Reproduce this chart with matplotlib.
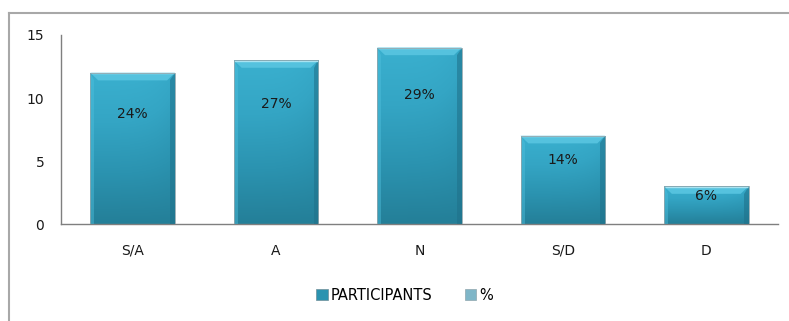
import matplotlib.pyplot as plt
import numpy as np
from matplotlib.patches import Polygon, Patch, Rectangle
from matplotlib.colors import LinearSegmentedColormap

categories = ["S/A", "A", "N", "S/D", "D"]
participants = [12, 13, 14, 7, 3]
percent_labels = ["24%", "27%", "29%", "14%", "6%"]

plt.rcParams['font.family'] = ['DejaVu Sans']

fig = plt.figure(figsize=(7.89, 3.21), dpi=100)
ax = fig.add_axes([0.0773, 0.302, 0.9087, 0.589])

# gradient for the bar faces: lighter at the top, deeper teal at the bottom
face_cmap = LinearSegmentedColormap.from_list(
    "face", ["#247f98", "#2b93b0", "#34a5c4", "#3ab0cf"])
grad = np.linspace(0, 1, 256).reshape(-1, 1)
side = np.linspace(0, 1, 64).reshape(1, -1)
shade = grad * (1 - 0.25 * side ** 4)

x = np.arange(len(categories))
width = 0.59
bars = ax.bar(x, participants, width, color="none", edgecolor="none", zorder=2)

for rect, val in zip(bars, participants):
    x0 = rect.get_x()
    x1 = x0 + rect.get_width()
    im = ax.imshow(shade, cmap=face_cmap, aspect="auto", origin="lower",
                   extent=[x0, x1, 0, val], vmin=0, vmax=1, zorder=2)
    im.set_clip_path(rect)
    # bevelled top edge
    dx, dy = 0.055, 0.6
    top = Polygon([(x0, val), (x1, val), (x1 - dx, val - dy), (x0 + dx, val - dy)],
                  closed=True, facecolor="#55c2de", edgecolor="none", zorder=3)
    ax.add_patch(top)
    ax.plot([x0 + 0.005, x1 - 0.005], [val - 0.03, val - 0.03], color="#a9e3f1",
            lw=1.0, zorder=4, solid_capstyle="butt")
    # darker right and lighter left rims
    ax.add_patch(Polygon([(x1, val), (x1, 0), (x1 - dx * 0.6, 0), (x1 - dx * 0.6, val - dy)],
                         closed=True, facecolor="#1f7089", alpha=0.55, edgecolor="none", zorder=3))
    ax.add_patch(Polygon([(x0, val), (x0, 0), (x0 + dx * 0.5, 0), (x0 + dx * 0.5, val - dy)],
                         closed=True, facecolor="#4fbfdc", alpha=0.45, edgecolor="none", zorder=3))
    ax.add_patch(Rectangle((x0, 0), x1 - x0, val, facecolor="none",
                           edgecolor="#8fa6ad", lw=0.6, zorder=4))

# percentage labels inside the bars
for xi, val, lab in zip(x, participants, percent_labels):
    ax.text(xi, val * 0.73, lab, ha="center", va="center", fontsize=10,
            color="#1a1a1a", zorder=5)

ax.set_xlim(-0.5, len(categories) - 0.5)
ax.set_ylim(0, 15)
ax.set_yticks([0, 5, 10, 15])
ax.set_xticks(x)
ax.set_xticklabels(categories)
ax.tick_params(axis="both", length=0, labelsize=10, colors="#1a1a1a")
ax.tick_params(axis="y", pad=12)
ax.tick_params(axis="x", pad=14)

for s in ["top", "right"]:
    ax.spines[s].set_visible(False)
ax.spines["left"].set_color("#7f7f7f")
ax.spines["bottom"].set_color("#7f7f7f")
ax.spines["left"].set_linewidth(1.0)
ax.spines["bottom"].set_linewidth(1.0)

handles = [Patch(facecolor="#2b93b0", edgecolor="#6f8f99", lw=0.5),
           Patch(facecolor="#7fb6c8", edgecolor="#8fa6ad", lw=0.5)]
fig.legend(handles, ["PARTICIPANTS", "%"], loc="center", ncol=2,
           bbox_to_anchor=(0.513, 0.08), frameon=False, fontsize=10.5,
           handlelength=0.8, handleheight=0.8, handletextpad=0.2,
           columnspacing=2.2)

# outer frame: only the top and left edges fall inside the image
fig.add_artist(plt.Line2D([9 / 789, 1], [1 - 13 / 321, 1 - 13 / 321],
                          color="#a8a8a8", lw=1.5, transform=fig.transFigure))
fig.add_artist(plt.Line2D([9 / 789, 9 / 789], [0, 1 - 13 / 321],
                          color="#a8a8a8", lw=1.5, transform=fig.transFigure))

fig.savefig("out.png", dpi=100)
